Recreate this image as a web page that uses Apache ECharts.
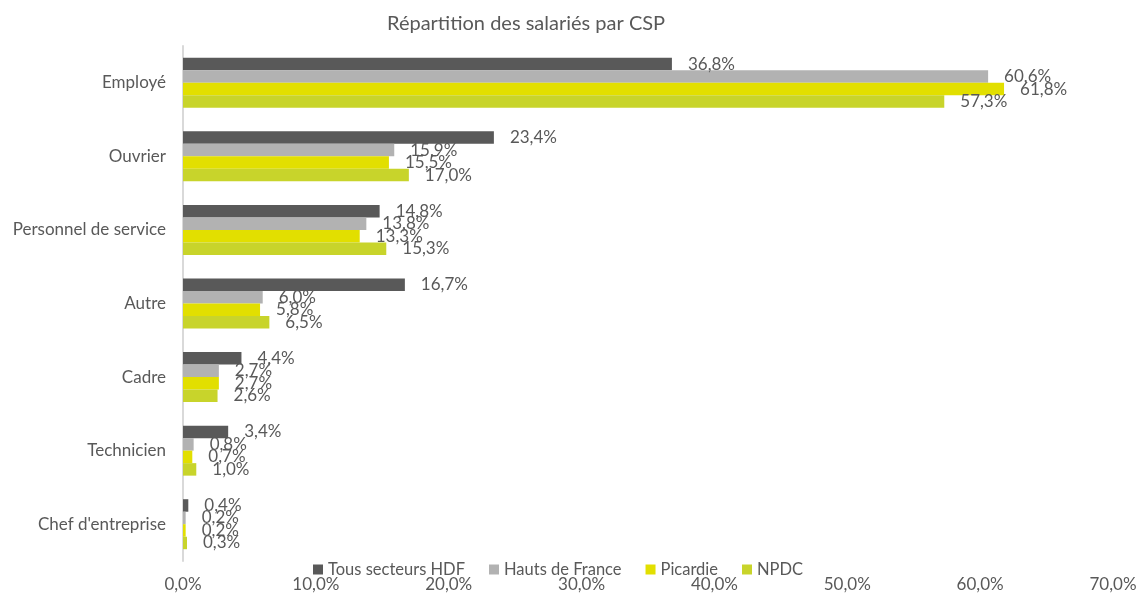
<!DOCTYPE html>
<html>
<head>
<meta charset="utf-8">
<script src="https://cdn.jsdelivr.net/npm/echarts@6/dist/echarts.min.js"></script>
<style>
  html, body { margin: 0; padding: 0; background: #fff; }
  #chart { width: 1144px; height: 594px; }
</style>
</head>
<body>
<div id="chart"></div>
<script>
// catégories (du haut vers le bas)
const categories = ["Employé", "Ouvrier", "Personnel de service", "Autre", "Cadre", "Technicien", "Chef d'entreprise"];
const seriesNames = ["Tous secteurs HDF", "Hauts de France", "Picardie", "NPDC"];
const tousSecteurs = [36.8, 23.4, 14.8, 16.7, 4.4, 3.4, 0.4];
const hautsDeFrance = [60.6, 15.9, 13.8, 6.0, 2.7, 0.8, 0.2];
const picardie = [61.8, 15.5, 13.3, 5.8, 2.7, 0.7, 0.2];
const npdc = [57.3, 17.0, 15.3, 6.5, 2.6, 1.0, 0.3];
const colors = ["#595959", "#b2b2b2", "#e2df00", "#c8d42b"];

const fmt = v => v.toFixed(1).replace(".", ",") + "%";
// Lato ~ mêmes métriques que Calibri
const font = "Lato, sans-serif";

const myChart = echarts.init(document.getElementById("chart"));

function makeSeries(name, data) {
  return {
    name: name,
    type: "bar",
    data: data,
    barWidth: 12.5,
    barGap: "0%",
    label: {
      show: true,
      position: "right",
      distance: 16,
      color: "#595959",
      fontSize: 17,
      fontFamily: font,
      formatter: p => fmt(p.value)
    }
  };
}

const option = {
  animation: false,
  color: colors,
  textStyle: { fontFamily: font },
  title: {
    text: "Répartition des salariés par CSP",
    left: 382,
    top: 9,
    textStyle: { color: "#595959", fontSize: 20, fontWeight: "normal", fontFamily: font }
  },
  legend: {
    data: seriesNames,
    icon: "rect",
    left: 308,
    top: 556,
    itemWidth: 10,
    itemHeight: 10,
    itemGap: 24,
    textStyle: { color: "#595959", fontSize: 16.5, fontFamily: font }
  },
  grid: { left: 183, right: 31, top: 46, bottom: 33, containLabel: false },
  xAxis: {
    type: "value",
    min: 0,
    max: 70,
    interval: 10,
    axisLine: { show: false },
    axisTick: { show: false },
    splitLine: { show: false },
    axisLabel: {
      color: "#595959",
      fontSize: 17,
      fontFamily: font,
      margin: 15,
      formatter: v => fmt(v)
    }
  },
  yAxis: {
    type: "category",
    data: categories,
    inverse: true,
    axisLine: { show: true, lineStyle: { color: "#d9d9d9", width: 2 } },
    axisTick: { show: false },
    axisLabel: { color: "#595959", fontSize: 17, fontFamily: font, margin: 17 }
  },
  series: [
    makeSeries(seriesNames[0], tousSecteurs),
    makeSeries(seriesNames[1], hautsDeFrance),
    makeSeries(seriesNames[2], picardie),
    makeSeries(seriesNames[3], npdc)
  ]
};

myChart.setOption(option);
</script>
</body>
</html>
